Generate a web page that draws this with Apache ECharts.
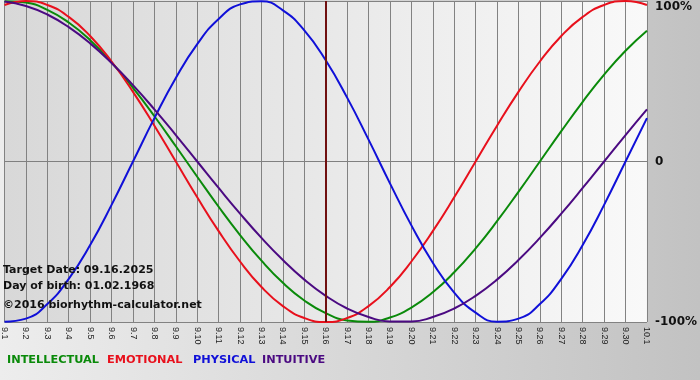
<!DOCTYPE html>
<html><head><meta charset="utf-8">
<script src="https://cdn.jsdelivr.net/npm/echarts@6/dist/echarts.min.js"></script>
<style>html,body{margin:0;padding:0;}#c{width:700px;height:380px;}</style>
</head><body><div id="c"></div>
<script>
const dates = ['9.1','9.2','9.3','9.4','9.5','9.6','9.7','9.8','9.9','9.10','9.11','9.12','9.13','9.14','9.15','9.16','9.17','9.18','9.19','9.20','9.21','9.22','9.23','9.24','9.25','9.26','9.27','9.28','9.29','9.30','10.1'];
const intellectual = [0.999,0.990,0.945,0.866,0.756,0.618,0.458,0.282,0.095,-0.095,-0.282,-0.458,-0.618,-0.756,-0.866,-0.945,-0.990,-0.999,-0.972,-0.910,-0.815,-0.690,-0.541,-0.372,-0.189,0,0.189,0.372,0.541,0.690,0.815];
const emotional = [0.975,1,0.975,0.901,0.782,0.623,0.434,0.223,0,-0.223,-0.434,-0.623,-0.782,-0.901,-0.975,-1,-0.975,-0.901,-0.782,-0.623,-0.434,-0.223,0,0.223,0.434,0.623,0.782,0.901,0.975,1,0.975];
const physical = [-0.998,-0.979,-0.888,-0.731,-0.520,-0.270,0,0.270,0.520,0.731,0.888,0.979,0.998,0.942,0.817,0.631,0.398,0.136,-0.136,-0.398,-0.631,-0.817,-0.942,-0.998,-0.979,-0.888,-0.731,-0.520,-0.270,0,0.270];
const intuitive = [0.997,0.969,0.916,0.837,0.736,0.614,0.476,0.325,0.165,0,-0.165,-0.325,-0.476,-0.614,-0.736,-0.837,-0.916,-0.969,-0.997,-0.997,-0.969,-0.916,-0.837,-0.736,-0.614,-0.476,-0.325,-0.165,0,0.165,0.325];
const targetDay = '9.16';
const yTicks = {'1':'100%','0':'0','-1':'-100%'};
const names = ['INTELLECTUAL','EMOTIONAL','PHYSICAL','INTUITIVE'];
const colors = ['#0a8a0a','#e8101c','#1010d8','#4b0a82'];
const infoLines = ['Target Date: 09.16.2025','Day of birth: 01.02.1968','\u00a92016 biorhythm-calculator.net'];

const chart = echarts.init(document.getElementById('c'));
const font = '"DejaVu Sans", Verdana, sans-serif';
const seriesData = [intellectual, emotional, physical, intuitive];
const series = names.map((n,i)=>({
  name:n, type:'line', data:seriesData[i], smooth:true, symbol:'none',
  lineStyle:{color:colors[i], width:2}, itemStyle:{color:colors[i]}, z:3
}));
series[0].markLine = {silent:true, symbol:'none', label:{show:false},
  lineStyle:{color:'#701010', width:2, type:'solid'}, data:[{xAxis:targetDay}]};

const legendLeft = [2,102,188,257];
chart.setOption({
  backgroundColor:{type:'linear',x:0,y:0,x2:1,y2:0,colorStops:[{offset:0,color:'#ededed'},{offset:1,color:'#c2c2c2'}]},
  animation:false,
  grid:{left:0, right:49, top:1, bottom:58, show:true, borderWidth:0,
    backgroundColor:{type:'linear',x:0,y:0,x2:1,y2:0,colorStops:[{offset:0,color:'#d8d8d8'},{offset:1,color:'#f9f9f9'}]}},
  legend:names.map((n,i)=>({left:legendLeft[i], top:355, padding:0, itemWidth:0, itemHeight:0, icon:'none', selectedMode:false,
    textStyle:{fontFamily:font, fontWeight:'bold', fontSize:11.3, color:colors[i]},
    data:[{name:n, icon:'none'}]})),
  xAxis:{type:'category', data:dates, boundaryGap:false,
    axisLine:{lineStyle:{color:'#808080', width:1}},
    axisTick:{show:true, length:3, lineStyle:{color:'#808080'}},
    splitLine:{show:true, lineStyle:{color:'#828282', width:1}},
    axisLabel:{rotate:-90, interval:0, margin:5, fontSize:9, fontFamily:'"Liberation Sans", Arial, sans-serif', color:'#222'}},
  yAxis:{type:'value', position:'right', min:-1, max:1, interval:1,
    axisLine:{show:false}, axisTick:{show:false},
    splitLine:{show:true, lineStyle:{color:'#828282', width:1}},
    axisLabel:{margin:8, fontSize:12, fontWeight:'bold', fontFamily:font, color:'#111',
      formatter:function(v){ const t = yTicks[String(v)]; return v===1 ? '{t|'+t+'}' : t; },
      rich:{t:{fontSize:12, fontWeight:'bold', fontFamily:font, color:'#111', padding:[12,0,0,0]}}}},
  graphic: infoLines.map((s,i)=>({type:'text', left:3, top:[265,281,300][i], z:10,
    style:{text:s, font:'bold 11px '+font, fill:'#111'}})),
  series: series
});
</script></body></html>
